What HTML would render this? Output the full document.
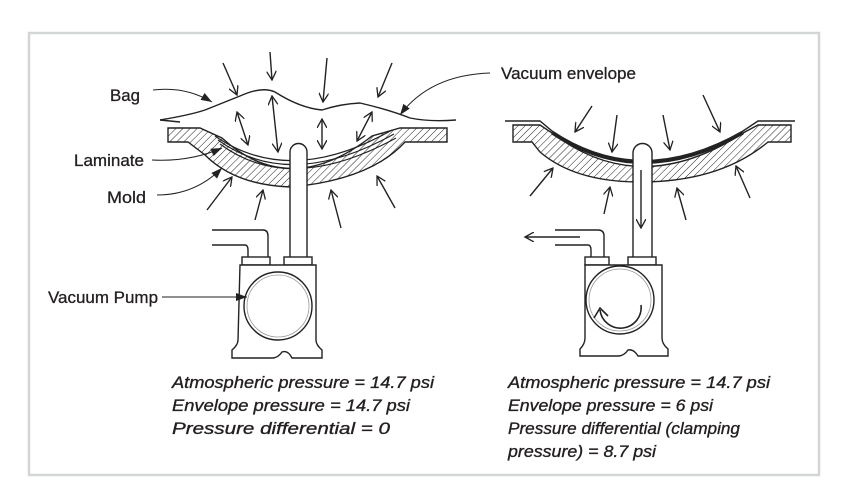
<!DOCTYPE html>
<html><head><meta charset="utf-8"><style>
html,body{margin:0;padding:0;background:#fff;}
svg{display:block;}
text{font-family:"Liberation Sans",sans-serif;fill:#231f20;}
</style></head><body>
<svg width="848" height="488" viewBox="0 0 848 488" xmlns="http://www.w3.org/2000/svg">
<defs>
<pattern id="h" width="5" height="5" patternUnits="userSpaceOnUse" patternTransform="rotate(45)">
<line x1="0" y1="0" x2="0" y2="5" stroke="#222" stroke-width="1"/>
</pattern>
<marker id="a" markerWidth="10" markerHeight="10" refX="9" refY="5" orient="auto" markerUnits="userSpaceOnUse">
<path d="M0,0 L9,5 L0,10" fill="none" stroke="#222" stroke-width="1.3"/>
</marker>
<marker id="as" markerWidth="10" markerHeight="10" refX="1" refY="5" orient="auto" markerUnits="userSpaceOnUse">
<path d="M10,0 L1,5 L10,10" fill="none" stroke="#222" stroke-width="1.3"/>
</marker>
<marker id="f" markerWidth="12" markerHeight="8" refX="11" refY="4" orient="auto" markerUnits="userSpaceOnUse">
<path d="M0,0 L11,4 L0,8 Z" fill="#222"/>
</marker>
</defs>
<rect x="29" y="33" width="790" height="442" fill="#fff" stroke="#d3d6d6" stroke-width="2.5"/>

<g fill="none" stroke="#222" stroke-width="1.4">
<!-- LEFT -->
<path d="M168,128 H200 L222,138 Q290,200 372,136 L400,128 H447 V142 H405 Q370,180 290,187 Q235,185 205,155 L188,142 H168 Z" fill="url(#h)"/>
<path d="M215,136 Q290,188 392,130" stroke-width="1.2"/>
<path d="M218,140 Q290,192 394,134" stroke-width="1.2"/>
<path d="M220,144 Q290,196 396,138" stroke-width="1.2"/>
<path d="M160,120 Q190,115 205,110 Q230,100 240,96 Q262,86 275,92 Q300,108 322,110 Q340,104 360,103 Q390,110 410,118 Q430,122 456,120"/>
<path d="M160,120 L180,122"/>
<path d="M290,262 V152 A8.5,8.5 0 0 1 307,152 V262" fill="#fff"/>
<path d="M212,230 H263 Q268,230 268,236 V258"/>
<path d="M212,245 H245 Q248,245 248,250 V258"/>
<rect x="242" y="257" width="28" height="8" fill="#fff"/>
<rect x="284" y="257" width="28" height="8" fill="#fff"/>
<path d="M240,265 H316 V340 Q316,345 322,350 V358 H292 Q288,350 282,352 Q278,358 272,358 H232 V350 Q238,345 238,340 Z" fill="#fff"/>
<circle cx="278" cy="306" r="34"/>
<circle cx="278" cy="306" r="31" stroke="#999" stroke-width="0.8"/>
<line x1="223" y1="63" x2="237" y2="95" marker-end="url(#a)"/>
<line x1="270" y1="52" x2="272" y2="80" marker-end="url(#a)"/>
<line x1="327" y1="58" x2="323" y2="102" marker-end="url(#a)"/>
<line x1="392" y1="63" x2="378" y2="97" marker-end="url(#a)"/>
<line x1="237" y1="112" x2="248" y2="145" marker-start="url(#as)" marker-end="url(#a)"/>
<line x1="272" y1="96" x2="278" y2="152" marker-start="url(#as)" marker-end="url(#a)"/>
<line x1="322" y1="119" x2="322" y2="149" marker-start="url(#as)" marker-end="url(#a)"/>
<line x1="372" y1="112" x2="357" y2="141" marker-start="url(#as)" marker-end="url(#a)"/>
<line x1="207" y1="210" x2="232" y2="177" marker-end="url(#a)"/>
<line x1="255" y1="220" x2="263" y2="190" marker-end="url(#a)"/>
<line x1="341" y1="228" x2="331" y2="190" marker-end="url(#a)"/>
<line x1="395" y1="208" x2="377" y2="176" marker-end="url(#a)"/>
<path d="M153,90 Q185,86 212,102" stroke-width="1" marker-end="url(#f)"/>
<path d="M152,160 Q190,162 222,148" stroke-width="1" marker-end="url(#f)"/>
<path d="M157,195 Q195,195 222,168" stroke-width="1" marker-end="url(#f)"/>
<path d="M162,297 H247" stroke-width="1" marker-end="url(#f)"/>
<path d="M490,73 Q430,75 400,115" stroke-width="1" marker-end="url(#f)"/>

<!-- RIGHT -->
<path d="M513,125 H540 L552,133 Q640,200 743,133 L758,125 H791 V142 H768 Q720,182 640,182 Q575,182 540,152 L532,142 H513 Z" fill="url(#h)"/>
<path d="M505,121 H540 L552,131 Q640,190 743,131 L758,121 H795"/>
<path d="M552,133 Q640,192 743,133" stroke-width="3"/>
<path d="M633,262 V153 A9.5,9.5 0 0 1 652,153 V262" fill="#fff"/>
<line x1="641" y1="170" x2="641" y2="228" marker-end="url(#a)"/>
<path d="M555,230 H598 Q604,230 604,236 V258"/>
<path d="M555,245 H588 Q591,245 591,250 V258"/>
<line x1="580" y1="237" x2="525" y2="237" marker-end="url(#a)"/>
<rect x="585" y="257" width="24" height="8" fill="#fff"/>
<rect x="628" y="257" width="28" height="8" fill="#fff"/>
<path d="M585,265 H662 V338 Q662,344 668,349 V356 H638 Q634,349 628,350 Q624,356 618,356 H580 V349 Q585,344 585,338 Z" fill="#fff"/>
<circle cx="620" cy="300" r="34"/>
<circle cx="620" cy="300" r="31" stroke="#999" stroke-width="0.8"/>
<path d="M641,305 A20,20 0 0 1 600,310" stroke-width="1.6"/>
<path d="M594,318 L600,308 L608,316" stroke-width="1.6"/>
<line x1="592" y1="106" x2="575" y2="132" marker-end="url(#a)"/>
<line x1="617" y1="115" x2="612" y2="152" marker-end="url(#a)"/>
<line x1="663" y1="115" x2="670" y2="150" marker-end="url(#a)"/>
<line x1="703" y1="95" x2="720" y2="132" marker-end="url(#a)"/>
<line x1="530" y1="196" x2="553" y2="168" marker-end="url(#a)"/>
<line x1="604" y1="214" x2="610" y2="187" marker-end="url(#a)"/>
<line x1="686" y1="220" x2="677" y2="188" marker-end="url(#a)"/>
<line x1="750" y1="198" x2="736" y2="166" marker-end="url(#a)"/>
</g>
<g font-size="17" stroke="#231f20" stroke-width="0.3">
<text x="110" y="101" textLength="30" lengthAdjust="spacingAndGlyphs">Bag</text>
<text x="74" y="166" textLength="70" lengthAdjust="spacingAndGlyphs">Laminate</text>
<text x="107" y="203" textLength="39" lengthAdjust="spacingAndGlyphs">Mold</text>
<text x="48" y="303" textLength="110" lengthAdjust="spacingAndGlyphs">Vacuum Pump</text>
<text x="501" y="79" textLength="135" lengthAdjust="spacingAndGlyphs">Vacuum envelope</text>
</g>
<g font-size="17" font-style="italic" stroke="#231f20" stroke-width="0.35">
<text x="172" y="388" textLength="262" lengthAdjust="spacingAndGlyphs">Atmospheric pressure = 14.7 psi</text>
<text x="172" y="411" textLength="238" lengthAdjust="spacingAndGlyphs">Envelope pressure = 14.7 psi</text>
<text x="172" y="434" textLength="218" lengthAdjust="spacingAndGlyphs">Pressure differential = 0</text>
<text x="508" y="388" textLength="262" lengthAdjust="spacingAndGlyphs">Atmospheric pressure = 14.7 psi</text>
<text x="508" y="411" textLength="205" lengthAdjust="spacingAndGlyphs">Envelope pressure = 6 psi</text>
<text x="508" y="434" textLength="232" lengthAdjust="spacingAndGlyphs">Pressure differential (clamping</text>
<text x="508" y="457" textLength="148" lengthAdjust="spacingAndGlyphs">pressure) = 8.7 psi</text>
</g>
</svg>
</body></html>
